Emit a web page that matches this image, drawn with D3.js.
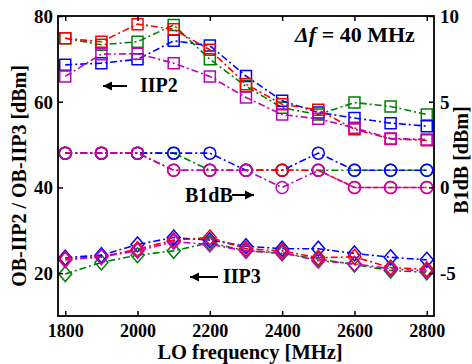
<!DOCTYPE html>
<html><head><meta charset="utf-8">
<script src="https://cdn.jsdelivr.net/npm/d3@7"></script>
<style>body{margin:0;background:#fff}svg{display:block}</style>
</head><body><svg id="c" width="472" height="364"></svg>
<script>
const freqs = [1800,1900,2000,2100,2200,2300,2400,2500,2600,2700,2800];
const xTicks = [1800,2000,2200,2400,2600,2800];
const yLeftTicks = [20,40,60,80];
const yRightTicks = [-5,0,5,10];
const seriesNames = ["green","blue","red","magenta"];
const seriesColors = ["#008000","#0000ff","#ff0000","#bf00bf"];
// OB-IIP2 (left axis, dBm)
const iip2Green   = [74.8,73.3,74.0,77.9,69.9,63.6,58.6,57.0,59.8,58.9,57.0];
const iip2Blue    = [68.6,69.0,69.9,74.2,73.1,66.0,60.2,57.5,56.2,55.0,54.3];
const iip2Red     = [74.8,74.0,78.1,76.9,72.1,64.1,59.4,58.1,53.6,51.3,51.0];
const iip2Magenta = [65.9,71.1,71.2,69.0,65.9,61.0,57.0,56.0,53.9,51.4,51.2];
// B1dB (right axis, dBm)
const b1Green   = [2,2,2,2,1,1,1,1,1,1,1];
const b1Blue    = [2,2,2,2,2,1,1,2,1,1,1];
const b1Red     = [2,2,2,1,1,1,1,1,0,0,0];
const b1Magenta = [2,2,2,1,1,1,0,1,0,0,0];
// OB-IIP3 (left axis, dBm)
const iip3Green   = [19.8,22.5,24.2,25.2,27.1,25.2,24.6,23.3,22.0,20.6,20.2];
const iip3Blue    = [23.6,24.2,26.7,28.3,27.7,26.3,25.7,25.7,24.6,23.7,23.1];
const iip3Red     = [23.3,23.8,25.6,27.7,28.3,25.7,25.2,23.6,23.8,21.3,20.9];
const iip3Magenta = [23.1,23.8,25.2,27.3,26.7,25.2,24.8,22.9,22.2,21.0,20.5];

const FONT = "'Liberation Serif', 'DejaVu Serif', serif";
const svg = d3.select("#c");
const L=58, R=434, T=16, B=316;
const x = d3.scaleLinear().domain([1780,2820]).range([L,R]);
const yL = d3.scaleLinear().domain([10,80]).range([B,T]);
const yR = d3.scaleLinear().domain([-7.5,10]).range([B,T]);

const dash = "7,3,2,3";
function sq(cx,cy){const h=5.5;return `M${cx-h},${cy-h}h${2*h}v${2*h}h${-2*h}Z`;}
function dia(cx,cy){const w=6.5,h=7.5;return `M${cx},${cy-h}L${cx+w},${cy}L${cx},${cy+h}L${cx-w},${cy}Z`;}

const groups = [
  {data:[iip2Green,iip2Blue,iip2Red,iip2Magenta], y:yL, mk:"sq"},
  {data:[b1Green,b1Blue,b1Red,b1Magenta], y:yR, mk:"circ"},
  {data:[iip3Green,iip3Blue,iip3Red,iip3Magenta], y:yL, mk:"dia"}
];
const plot = svg.append("g");
groups.forEach(g=>{
  g.data.forEach((vals,i)=>{
    const col = seriesColors[i];
    const line = d3.line().x((d,j)=>x(freqs[j])).y(d=>g.y(d));
    plot.append("path").attr("d",line(vals)).attr("fill","none").attr("stroke",col)
      .attr("stroke-width",1.6).attr("stroke-dasharray",dash);
    const m = plot.append("g");
    vals.forEach((v,j)=>{
      const cx=x(freqs[j]), cy=g.y(v);
      if(g.mk==="circ") m.append("circle").attr("cx",cx).attr("cy",cy).attr("r",6);
      else m.append("path").attr("d", g.mk==="sq"?sq(cx,cy):dia(cx,cy));
    });
    m.selectAll("*").attr("fill","none").attr("stroke",col).attr("stroke-width",1.5);
  });
});

// frame and axes
const axG = svg.append("g");
axG.append("rect").attr("x",L).attr("y",T).attr("width",R-L).attr("height",B-T)
  .attr("fill","none").attr("stroke","#000").attr("stroke-width",1.8);
function styleAxis(a){a.attr("font-family",null).attr("font-size",null);a.select(".domain").remove();a.selectAll(".tick line").attr("stroke","#000").attr("stroke-width",1.5);a.selectAll("text").style("font-family",FONT).style("font-size","19px").style("font-weight","bold").attr("fill","#000").attr("dy",null).attr("dominant-baseline","central");}
const xAxisG = axG.append("g").attr("transform",`translate(0,${B})`)
  .call(d3.axisBottom(x).tickValues(xTicks).tickSize(-5).tickFormat(d=>String(d))).call(styleAxis);
xAxisG.selectAll("text").attr("y",15).style("font-size","18px");
axG.append("g").attr("transform",`translate(0,${T})`)
  .call(d3.axisTop(x).tickValues(xTicks).tickSize(-5).tickFormat("")).call(styleAxis);
axG.append("g").attr("transform",`translate(${L},0)`)
  .call(d3.axisLeft(yL).tickValues(yLeftTicks).tickSize(-5).tickPadding(5).tickFormat(d=>String(d))).call(styleAxis);
axG.append("g").attr("transform",`translate(${R},0)`)
  .call(d3.axisRight(yR).tickValues(yRightTicks).tickSize(-5).tickPadding(6).tickFormat(d=>String(d))).call(styleAxis);

function txt(sel){return sel.style("font-family",FONT).style("font-weight","bold").attr("fill","#000");}
// titles
txt(svg.append("text")).attr("x",250).attr("y",359).attr("text-anchor","middle").style("font-size","20.5px").text("LO frequency [MHz]");
txt(svg.append("text")).attr("transform","translate(26,176) rotate(-90)").attr("text-anchor","middle").style("font-size","20px").text("OB-IIP2 / OB-IIP3 [dBm]");
txt(svg.append("text")).attr("transform","translate(468,160) rotate(-90)").attr("text-anchor","middle").style("font-size","20px").text("B1dB [dBm]");

// annotations
const df = txt(svg.append("text")).attr("x",295).attr("y",42).style("font-size","22px");
df.append("tspan").style("font-style","italic").text("Δf");
df.append("tspan").text(" = 40 MHz");
txt(svg.append("text")).attr("x",140).attr("y",92).style("font-size","20px").text("IIP2");
txt(svg.append("text")).attr("x",185).attr("y",202).style("font-size","20px").text("B1dB");
txt(svg.append("text")).attr("x",223).attr("y",283).style("font-size","20px").text("IIP3");
function arrow(x1,x2,yy){
  svg.append("line").attr("x1",x1).attr("x2",x2).attr("y1",yy).attr("y2",yy).attr("stroke","#000").attr("stroke-width",2);
  const d = x2>x1?1:-1;
  svg.append("path").attr("d",`M${x2},${yy}L${x2-d*9},${yy-4.5}L${x2-d*9},${yy+4.5}Z`).attr("fill","#000");
}
arrow(127,103,86);
arrow(232,254,195);
arrow(218,190,277);
</script></body></html>
